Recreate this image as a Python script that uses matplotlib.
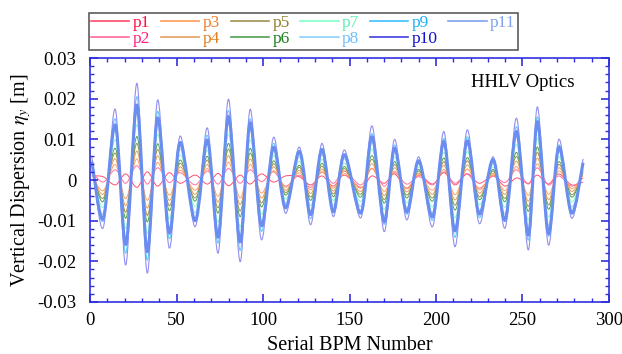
import matplotlib
matplotlib.use("Agg")
import matplotlib.pyplot as plt
from matplotlib.lines import Line2D
from matplotlib.path import Path
from matplotlib.patches import PathPatch
from matplotlib.ticker import MultipleLocator, FuncFormatter

plt.rcParams['font.family'] = ['Liberation Serif', 'DejaVu Serif']
plt.rcParams['mathtext.fontset'] = 'stix'
plt.rcParams['axes.unicode_minus'] = False

# BPM positions of the turning points of the dispersion wave
bpm = [1, 7.5, 14.5, 20.6, 27, 33, 39, 45.7, 52, 60.7, 67.8, 74, 80, 86.7, 92.5,
       99, 106, 113, 121, 127.5, 134, 140.6, 147, 156.5, 163, 170, 176, 183, 190,
       198, 204.6, 211, 218, 225, 233, 240, 246.6, 253.4, 258.6, 265, 271, 278.4, 285]

p1 = [0.0010, 0.0008, -0.0012, 0.0015, -0.0018, 0.0020, -0.0015, 0.0018, -0.0008, 0.0012,
      -0.0010, 0.0016, -0.0014, 0.0012, -0.0010, 0.0015, -0.0005, 0.0010, 0.0008, -0.0012,
      0.0010, -0.0015, 0.0012, -0.0018, 0.0010, -0.0008, 0.0015, -0.0020, 0.0012, -0.0010,
      0.0018, -0.0012, 0.0015, -0.0008, 0.0010, -0.0015, 0.0005, -0.0008, 0.0012, -0.0010,
      0.0015, -0.0012, -0.0005]
p2 = [0.0020, -0.0005, 0.0025, -0.0008, 0.0035, -0.0010, 0.0030, -0.0006, 0.0018, -0.0012,
      0.0022, -0.0010, 0.0028, -0.0008, 0.0025, -0.0004, 0.0020, -0.0015, 0.0012, -0.0018,
      0.0020, -0.0008, 0.0022, -0.0012, 0.0028, -0.0015, 0.0018, -0.0010, 0.0008, -0.0012,
      0.0020, -0.0008, 0.0015, -0.0020, 0.0010, -0.0006, 0.0025, -0.0010, 0.0030, -0.0012,
      0.0010, -0.0015, 0.0005]
p3 = [0.0013, -0.0026, 0.0038, -0.0046, 0.0052, -0.0050, 0.0043, -0.0037, 0.0024, -0.0025,
      0.0028, -0.0040, 0.0044, -0.0044, 0.0038, -0.0032, 0.0023, -0.0018, 0.0018, -0.0024,
      0.0020, -0.0020, 0.0016, -0.0020, 0.0029, -0.0028, 0.0022, -0.0022, 0.0013, -0.0025,
      0.0026, -0.0036, 0.0027, -0.0024, 0.0013, -0.0026, 0.0033, -0.0038, 0.0040, -0.0035,
      0.0022, -0.0021, 0.0011]
p4 = [0.0017, -0.0035, 0.0052, -0.0063, 0.0071, -0.0069, 0.0059, -0.0050, 0.0032, -0.0035,
      0.0038, -0.0054, 0.0060, -0.0060, 0.0052, -0.0044, 0.0032, -0.0025, 0.0024, -0.0033,
      0.0027, -0.0027, 0.0022, -0.0028, 0.0040, -0.0038, 0.0030, -0.0029, 0.0017, -0.0035,
      0.0036, -0.0049, 0.0037, -0.0032, 0.0017, -0.0035, 0.0046, -0.0052, 0.0054, -0.0048,
      0.0030, -0.0028, 0.0016]
p5 = [0.0022, -0.0045, 0.0066, -0.0079, 0.0090, -0.0087, 0.0075, -0.0063, 0.0041, -0.0044,
      0.0049, -0.0068, 0.0076, -0.0076, 0.0066, -0.0056, 0.0040, -0.0031, 0.0031, -0.0042,
      0.0034, -0.0034, 0.0028, -0.0035, 0.0051, -0.0048, 0.0038, -0.0037, 0.0022, -0.0044,
      0.0045, -0.0062, 0.0047, -0.0041, 0.0022, -0.0045, 0.0058, -0.0065, 0.0068, -0.0061,
      0.0038, -0.0036, 0.0020]
p6 = [0.0026, -0.0053, 0.0078, -0.0094, 0.0107, -0.0103, 0.0089, -0.0075, 0.0049, -0.0052,
      0.0058, -0.0081, 0.0090, -0.0090, 0.0078, -0.0066, 0.0047, -0.0037, 0.0036, -0.0050,
      0.0041, -0.0041, 0.0033, -0.0042, 0.0060, -0.0057, 0.0045, -0.0044, 0.0026, -0.0052,
      0.0054, -0.0074, 0.0055, -0.0048, 0.0026, -0.0053, 0.0068, -0.0077, 0.0081, -0.0072,
      0.0045, -0.0042, 0.0023]
p7 = [0.0032, -0.0067, 0.0099, -0.0119, 0.0136, -0.0131, 0.0112, -0.0095, 0.0062, -0.0066,
      0.0073, -0.0103, 0.0113, -0.0115, 0.0099, -0.0084, 0.0060, -0.0047, 0.0046, -0.0063,
      0.0051, -0.0051, 0.0042, -0.0053, 0.0076, -0.0072, 0.0057, -0.0056, 0.0032, -0.0066,
      0.0068, -0.0093, 0.0070, -0.0061, 0.0032, -0.0067, 0.0087, -0.0098, 0.0103, -0.0091,
      0.0057, -0.0054, 0.0030]
p8 = [0.0040, -0.0083, 0.0122, -0.0146, 0.0167, -0.0160, 0.0138, -0.0117, 0.0076, -0.0081,
      0.0090, -0.0126, 0.0139, -0.0141, 0.0122, -0.0103, 0.0074, -0.0057, 0.0057, -0.0077,
      0.0063, -0.0063, 0.0052, -0.0065, 0.0093, -0.0089, 0.0070, -0.0069, 0.0040, -0.0081,
      0.0083, -0.0115, 0.0086, -0.0075, 0.0040, -0.0083, 0.0106, -0.0120, 0.0126, -0.0112,
      0.0070, -0.0066, 0.0036]
p9 = [0.0049, -0.0101, 0.0150, -0.0180, 0.0205, -0.0197, 0.0169, -0.0144, 0.0093, -0.0099,
      0.0110, -0.0155, 0.0171, -0.0173, 0.0150, -0.0126, 0.0090, -0.0071, 0.0070, -0.0095,
      0.0077, -0.0077, 0.0064, -0.0080, 0.0114, -0.0109, 0.0086, -0.0084, 0.0049, -0.0099,
      0.0102, -0.0141, 0.0106, -0.0092, 0.0049, -0.0101, 0.0131, -0.0148, 0.0155, -0.0138,
      0.0086, -0.0081, 0.0045]
p10 = [0.0057, -0.0118, 0.0174, -0.0209, 0.0238, -0.0229, 0.0197, -0.0167, 0.0108, -0.0115,
       0.0128, -0.0180, 0.0199, -0.0201, 0.0174, -0.0147, 0.0105, -0.0082, 0.0081, -0.0110,
       0.0090, -0.0090, 0.0074, -0.0093, 0.0133, -0.0127, 0.0100, -0.0098, 0.0057, -0.0115,
       0.0119, -0.0164, 0.0123, -0.0107, 0.0057, -0.0118, 0.0152, -0.0172, 0.0180, -0.0160,
       0.0100, -0.0094, 0.0052]
p11 = [0.0045, -0.0095, 0.0135, -0.0158, 0.0184, -0.0176, 0.0152, -0.0130, 0.0092, -0.0100,
       0.0098, -0.0140, 0.0156, -0.0152, 0.0140, -0.0112, 0.0080, -0.0068, 0.0070, -0.0085,
       0.0075, -0.0078, 0.0062, -0.0081, 0.0106, -0.0102, 0.0078, -0.0078, 0.0047, -0.0090,
       0.0094, -0.0125, 0.0096, -0.0083, 0.0050, -0.0098, 0.0119, -0.0135, 0.0143, -0.0131,
       0.0080, -0.0081, 0.0042]

names = ['p1', 'p2', 'p3', 'p4', 'p5', 'p6', 'p7', 'p8', 'p9', 'p10', 'p11']
series = [p1, p2, p3, p4, p5, p6, p7, p8, p9, p10, p11]
legend_colors = ['#ff4a6a', '#ff6a9a', '#ff9a55', '#e0a060', '#a09050', '#50a050',
                 '#80ffc8', '#90d0ff', '#40c0ff', '#4040e0', '#80a0f0']
text_colors = ['#ff1040', '#ff2080', '#f08030', '#e08020', '#908030', '#208020',
               '#60f0b0', '#70c0ff', '#20b0f0', '#1010d0', '#80a0f0']
plot_colors = ['#ff5070', '#ff70a0', '#ffa060', '#e0a060', '#a09050', '#50a050',
               '#80ffc8', '#a0d8ff', '#60ccff', '#9090f0', '#6a8ef0']
widths = [0.7, 0.7, 0.7, 0.7, 0.7, 0.7, 0.7, 0.8, 0.8, 0.8, 2.2]


def smooth_path(x, y):
    # Catmull-Rom curve through the read points, drawn as cubic Bezier segments
    verts = [(x[0], y[0])]
    codes = [Path.MOVETO]
    n = len(x)
    for i in range(n - 1):
        i0 = max(i - 1, 0)
        i3 = min(i + 2, n - 1)
        c1 = (x[i] + (x[i + 1] - x[i0]) / 6, y[i] + (y[i + 1] - y[i0]) / 6)
        c2 = (x[i + 1] - (x[i3] - x[i]) / 6, y[i + 1] - (y[i3] - y[i]) / 6)
        verts += [c1, c2, (x[i + 1], y[i + 1])]
        codes += [Path.CURVE4] * 3
    return Path(verts, codes)


fig = plt.figure(figsize=(6.22, 3.54), dpi=100)
ax = fig.add_axes([0.145, 0.147, 0.834, 0.689])

for y, c, lw in zip(series, plot_colors, widths):
    ax.add_patch(PathPatch(smooth_path(bpm, y), fill=False, edgecolor=c, lw=lw))

ax.set_xlim(0, 300)
ax.set_ylim(-0.03, 0.03)
ax.xaxis.set_major_locator(MultipleLocator(50))
ax.xaxis.set_minor_locator(MultipleLocator(10))
ax.yaxis.set_major_locator(MultipleLocator(0.01))
ax.yaxis.set_minor_locator(MultipleLocator(0.002))
ax.yaxis.set_major_formatter(FuncFormatter(lambda v, p: '0' if abs(v) < 1e-9 else '%.2f' % v))

spine_col = '#3030e0'
for s in ax.spines.values():
    s.set_color(spine_col)
    s.set_linewidth(1.2)
ax.tick_params(which='both', direction='in', top=True, right=True, color=spine_col, labelsize=13.5)
ax.tick_params(which='major', length=6, width=1.2)
ax.tick_params(which='minor', length=3, width=1)
ax.tick_params(axis='x', pad=7)
ax.tick_params(axis='y', pad=10)

ax.set_xlabel('Serial BPM Number', fontsize=14.5, labelpad=5)
ax.set_ylabel('Vertical Dispersion $\\eta_y$ [m]', fontsize=14.5, labelpad=3)
ax.text(0.934, 0.88, 'HHLV Optics', transform=ax.transAxes, ha='right', fontsize=13.5)

handles = [Line2D([], [], color=c, lw=1.2) for c in legend_colors]
leg = fig.legend(handles, names, ncol=6, loc='upper left', bbox_to_anchor=(0.143, 0.963),
                 frameon=True, fancybox=False, edgecolor='#333333', fontsize=12.5,
                 handlelength=2.2, handletextpad=0.2, columnspacing=0.62,
                 labelspacing=0.0, borderpad=0.12, borderaxespad=0)
leg.get_frame().set_linewidth(1.2)
for t, c in zip(leg.get_texts(), text_colors):
    t.set_color(c)

fig.savefig('out.png', dpi=100)
